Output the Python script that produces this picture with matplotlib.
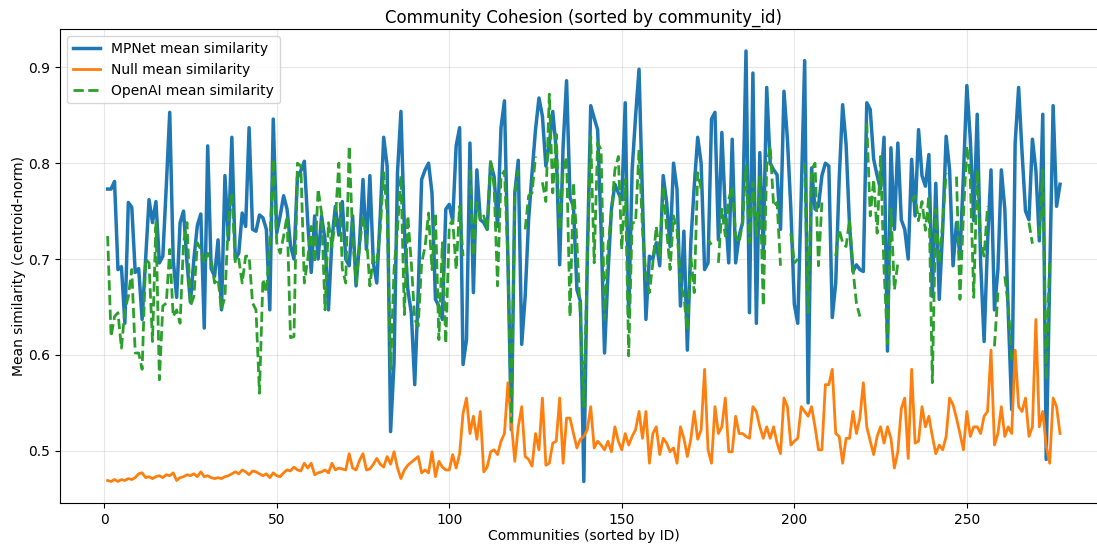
import numpy as np
import matplotlib
matplotlib.use("Agg")
import matplotlib.pyplot as plt

nan = np.nan

# mean similarity per community (community ids 1..277)
mpnet = [
    0.773, 0.773, 0.781, 0.689, 0.692, 0.633, 0.759, 0.754, 0.686, 0.690,
    0.637, 0.700, 0.762, 0.738, 0.760, 0.696, 0.703, 0.776, 0.853, 0.700,
    0.660, 0.738, 0.750, 0.696, 0.655, 0.700, 0.735, 0.747, 0.628, 0.818,
    0.690, 0.682, 0.720, 0.647, 0.787, 0.720, 0.827, 0.700, 0.706, 0.748,
    0.734, 0.837, 0.731, 0.729, 0.746, 0.743, 0.731, 0.647, 0.846, 0.727,
    0.745, 0.766, 0.752, 0.714, 0.700, 0.785, 0.792, 0.802, 0.738, 0.686,
    0.745, 0.700, 0.745, 0.720, 0.647, 0.720, 0.755, 0.725, 0.760, 0.700,
    0.693, 0.745, 0.672, 0.717, 0.783, 0.710, 0.787, 0.696, 0.675, 0.745,
    0.827, 0.797, 0.520, 0.592, 0.790, 0.854, 0.731, 0.668, 0.644, 0.569,
    0.665, 0.783, 0.793, 0.800, 0.769, 0.658, 0.651, 0.637, 0.752, 0.757,
    0.740, 0.818, 0.837, 0.590, 0.616, 0.821, 0.665, 0.793, 0.741, 0.738,
    0.731, 0.800, 0.786, 0.734, 0.837, 0.865, 0.700, 0.522, 0.769, 0.803,
    0.611, 0.661, 0.741, 0.790, 0.835, 0.868, 0.849, 0.797, 0.820, 0.854,
    0.814, 0.694, 0.818, 0.886, 0.764, 0.755, 0.668, 0.656, 0.468, 0.700,
    0.860, 0.847, 0.835, 0.731, 0.602, 0.685, 0.752, 0.778, 0.769, 0.762,
    0.863, 0.640, 0.793, 0.849, 0.898, 0.762, 0.637, 0.703, 0.700, 0.717,
    0.693, 0.787, 0.759, 0.713, 0.800, 0.773, 0.651, 0.729, 0.605, 0.717,
    0.776, 0.827, 0.800, 0.689, 0.696, 0.846, 0.853, 0.720, 0.832, 0.750,
    0.696, 0.825, 0.696, 0.724, 0.738, 0.917, 0.644, 0.894, 0.633, 0.811,
    0.710, 0.879, 0.800, 0.793, 0.788, 0.731, 0.875, 0.825, 0.752, 0.653,
    0.633, 0.766, 0.907, 0.550, 0.795, 0.752, 0.755, 0.787, 0.800, 0.797,
    0.639, 0.675, 0.783, 0.861, 0.820, 0.735, 0.687, 0.694, 0.689, 0.687,
    0.863, 0.856, 0.804, 0.787, 0.773, 0.827, 0.604, 0.816, 0.731, 0.821,
    0.741, 0.731, 0.700, 0.804, 0.745, 0.835, 0.787, 0.776, 0.809, 0.661,
    0.779, 0.658, 0.731, 0.828, 0.793, 0.693, 0.738, 0.703, 0.787, 0.881,
    0.825, 0.740, 0.851, 0.696, 0.614, 0.717, 0.793, 0.647, 0.689, 0.793,
    0.752, 0.644, 0.543, 0.821, 0.879, 0.811, 0.750, 0.741, 0.825, 0.793,
    0.719, 0.851, 0.491, 0.680, 0.860, 0.755, 0.778,
]

null = [
    0.469, 0.468, 0.470, 0.468, 0.470, 0.469, 0.471, 0.470, 0.472, 0.476,
    0.477, 0.472, 0.473, 0.471, 0.473, 0.474, 0.472, 0.475, 0.474, 0.477,
    0.469, 0.472, 0.473, 0.475, 0.474, 0.476, 0.473, 0.478, 0.473, 0.474,
    0.472, 0.471, 0.472, 0.471, 0.473, 0.474, 0.476, 0.478, 0.476, 0.480,
    0.478, 0.475, 0.479, 0.478, 0.476, 0.474, 0.476, 0.472, 0.477, 0.474,
    0.473, 0.477, 0.480, 0.479, 0.483, 0.480, 0.479, 0.487, 0.482, 0.487,
    0.475, 0.477, 0.478, 0.480, 0.477, 0.487, 0.480, 0.482, 0.481, 0.480,
    0.497, 0.482, 0.480, 0.490, 0.497, 0.480, 0.481, 0.486, 0.492, 0.486,
    0.483, 0.494, 0.486, 0.499, 0.482, 0.471, 0.480, 0.485, 0.488, 0.491,
    0.494, 0.477, 0.480, 0.477, 0.499, 0.473, 0.489, 0.483, 0.480, 0.480,
    0.496, 0.482, 0.497, 0.539, 0.555, 0.518, 0.536, 0.512, 0.541, 0.478,
    0.483, 0.499, 0.501, 0.496, 0.510, 0.518, 0.571, 0.529, 0.489, 0.525,
    0.546, 0.494, 0.491, 0.484, 0.518, 0.501, 0.555, 0.485, 0.487, 0.508,
    0.510, 0.555, 0.487, 0.534, 0.534, 0.518, 0.503, 0.512, 0.515, 0.522,
    0.546, 0.503, 0.510, 0.506, 0.501, 0.510, 0.499, 0.525, 0.510, 0.501,
    0.518, 0.506, 0.515, 0.522, 0.541, 0.513, 0.541, 0.487, 0.518, 0.525,
    0.496, 0.513, 0.508, 0.499, 0.503, 0.487, 0.525, 0.513, 0.494, 0.512,
    0.541, 0.512, 0.522, 0.585, 0.501, 0.487, 0.546, 0.518, 0.525, 0.555,
    0.499, 0.499, 0.536, 0.518, 0.518, 0.515, 0.513, 0.546, 0.541, 0.525,
    0.513, 0.525, 0.513, 0.525, 0.508, 0.497, 0.555, 0.546, 0.506, 0.510,
    0.513, 0.546, 0.541, 0.536, 0.546, 0.525, 0.501, 0.501, 0.569, 0.569,
    0.585, 0.518, 0.515, 0.487, 0.513, 0.513, 0.541, 0.518, 0.534, 0.571,
    0.525, 0.510, 0.496, 0.515, 0.525, 0.508, 0.525, 0.513, 0.482, 0.499,
    0.544, 0.555, 0.492, 0.585, 0.508, 0.510, 0.546, 0.525, 0.536, 0.515,
    0.497, 0.506, 0.501, 0.515, 0.555, 0.548, 0.534, 0.518, 0.501, 0.541,
    0.515, 0.525, 0.525, 0.518, 0.536, 0.541, 0.605, 0.506, 0.518, 0.546,
    0.515, 0.525, 0.518, 0.605, 0.546, 0.541, 0.555, 0.515, 0.525, 0.637,
    0.525, 0.541, 0.505, 0.487, 0.555, 0.546, 0.518,
]

openai = [
    0.724, 0.619, 0.640, 0.644, 0.607, 0.647, 0.661, 0.689, 0.602, 0.602,
    0.585, 0.700, 0.696, 0.614, 0.738, 0.574, 0.651, 0.654, 0.710, 0.640,
    0.647, 0.633, 0.717, 0.738, 0.651, 0.661, 0.717, 0.710, 0.696, 0.706,
    0.700, 0.675, 0.679, 0.647, 0.661, 0.741, 0.769, 0.696, 0.700, 0.675,
    0.703, 0.703, 0.654, 0.647, 0.560, 0.679, 0.665, 0.717, 0.804, 0.717,
    0.706, 0.724, 0.745, 0.618, 0.619, 0.800, 0.797, 0.675, 0.700, 0.734,
    0.696, 0.773, 0.748, 0.647, 0.738, 0.713, 0.741, 0.800, 0.690, 0.675,
    0.818, 0.724, 0.675, 0.713, 0.745, 0.724, 0.672, 0.703, 0.696, 0.731,
    0.790, 0.748, 0.585, 0.689, 0.731, 0.787, 0.642, 0.745, 0.696, 0.637,
    0.630, 0.696, 0.713, 0.748, 0.689, 0.748, 0.616, 0.717, 0.612, 0.734,
    0.741, 0.689, 0.755, 0.703, nan, 0.793, 0.703, 0.759, 0.741, 0.745,
    0.731, 0.804, 0.776, 0.672, 0.787, 0.792, 0.700, 0.530, 0.769, 0.793,
    nan, 0.731, 0.766, 0.769, 0.807, nan, 0.780, 0.760, 0.872, 0.769,
    0.830, 0.730, 0.790, 0.807, 0.640, 0.780, 0.717, 0.640, 0.546, 0.696,
    0.828, 0.696, 0.821, 0.814, 0.637, 0.713, 0.748, 0.793, 0.807, 0.710,
    0.783, 0.599, 0.738, 0.738, 0.814, 0.731, 0.682, 0.665, 0.696, 0.734,
    0.703, 0.776, 0.731, 0.689, 0.745, 0.731, 0.675, 0.661, 0.626, 0.703,
    0.665, 0.790, 0.773, nan, 0.720, 0.715, nan, 0.696, 0.752, 0.724,
    0.762, 0.776, 0.724, 0.717, 0.738, 0.797, 0.717, 0.780, 0.724, 0.786,
    0.651, 0.797, 0.818, 0.755, 0.759, 0.693, nan, nan, 0.727, 0.696,
    0.700, nan, 0.800, 0.644, 0.793, 0.800, 0.693, 0.759, nan, nan,
    nan, 0.703, 0.731, 0.717, 0.713, 0.741, 0.689, 0.654, 0.640, nan,
    0.842, 0.745, 0.783, 0.727, 0.807, 0.689, 0.612, 0.752, 0.668, 0.696,
    nan, nan, nan, 0.760, 0.766, 0.740, 0.760, 0.730, 0.766, 0.571,
    0.752, 0.696, 0.738, 0.790, nan, nan, 0.786, 0.658, 0.745, 0.818,
    0.783, 0.660, 0.793, 0.717, 0.703, 0.755, nan, 0.609, 0.665, nan,
    0.682, 0.651, 0.595, nan, nan, nan, nan, 0.738, 0.716, nan,
    0.724, 0.793, 0.574, 0.700, nan, nan, nan,
]

ids = np.arange(1, len(mpnet) + 1)

fig = plt.figure(figsize=(10.97, 5.44), dpi=100)
# the original image is cropped on the right, so the axes run past the edge
ax = fig.add_axes([0.0547, 0.0754, 0.955, 0.8704])
ax.plot(ids, mpnet, color="#1f77b4", linewidth=2.5, label="MPNet mean similarity")
ax.plot(ids, null, color="#ff7f0e", linewidth=2.0, label="Null mean similarity")
ax.plot(ids, openai, color="#2ca02c", linewidth=2.0, linestyle="--",
        label="OpenAI mean similarity")

ax.set_title("Community Cohesion (sorted by community_id)", pad=5)
ax.set_xlabel("Communities (sorted by ID)", labelpad=1.5)
ax.set_ylabel("Mean similarity (centroid-norm)", labelpad=2)
ax.grid(True, alpha=0.3)
ax.legend(loc="upper left")

plt.savefig("out.png")
